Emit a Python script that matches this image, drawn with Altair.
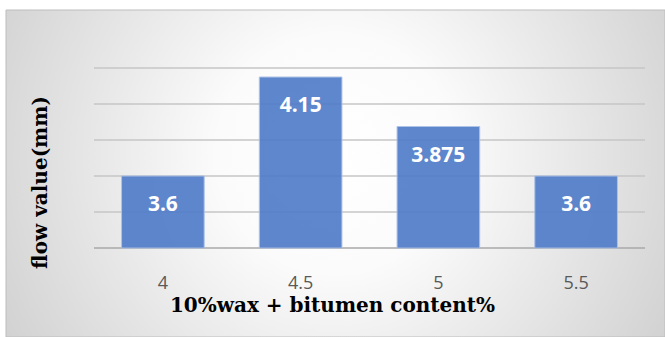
import altair as alt
import pandas as pd

# Flow value by bitumen content (10% wax modified binder)
contents = ["4", "4.5", "5", "5.5"]
flow_values = [3.6, 4.15, 3.875, 3.6]
grid_values = [3.2, 3.4, 3.6, 3.8, 4.0, 4.2]
base_value = 3.2

bars_df = pd.DataFrame({"content": contents, "flow": flow_values})
grid_df = pd.DataFrame({"flow": grid_values})

W, H = 551, 180
PAD_L, PAD_T, PAD_R, PAD_B = 94, 68, 20, 89

y_scale = alt.Scale(domain=[3.2, 4.2], nice=False, zero=False)
x_scale = alt.Scale(paddingInner=0.4, paddingOuter=0.2)

x_axis = alt.Axis(
    title="10%wax + bitumen content%",
    labelAngle=0,
    ticks=False,
    domain=False,
    grid=False,
    zindex=2,
    labelFont="Open Sans",
    labelFontSize=18,
    labelColor="#595959",
    labelPadding=26,
    titleFont="DejaVu Serif",
    titleFontWeight="bold",
    titleFontSize=20,
    titleColor="#000000",
    titleX=238,
    titleY=63,
    titleAlign="center",
    titleBaseline="alphabetic",
)

y_axis = alt.Axis(
    title="flow value(mm)",
    labels=False,
    ticks=False,
    domain=False,
    grid=False,
    zindex=2,
    titleFont="DejaVu Serif",
    titleFontWeight="bold",
    titleFontSize=20,
    titleColor="#000000",
    titleAngle=270,
    titleX=-54,
    titleY=114,
    titleAlign="center",
    titleBaseline="middle",
)

# Soft radial grey panel behind the whole chart
panel = alt.Chart(alt.Data(values=[{}])).mark_rect(
    fill=alt.Gradient(
        gradient="radial",
        stops=[
            alt.GradientStop(offset=0, color="#ffffff"),
            alt.GradientStop(offset=0.25, color="#fbfbfb"),
            alt.GradientStop(offset=1, color="#c2c2c2"),
        ],
        x1=0.5, y1=0.47, r1=0,
        x2=0.5, y2=0.47, r2=0.72,
    ),
    stroke="#bdbdbd",
    strokeWidth=1,
).encode(
    x=alt.value(6 - PAD_L),
    x2=alt.value(665 - PAD_L),
    y=alt.value(10 - PAD_T),
    y2=alt.value(337 - PAD_T),
)

grid = alt.Chart(grid_df).mark_rule(strokeWidth=1.6).encode(
    y=alt.Y("flow:Q", scale=y_scale, axis=y_axis),
    color=alt.condition(alt.datum.flow <= base_value, alt.value("#a9a9a9"), alt.value("#c6c6c6")),
)

bars = alt.Chart(bars_df).mark_bar(
    color="#517dc9", opacity=0.92, stroke="#a8bfe6", strokeWidth=1
).encode(
    x=alt.X("content:N", sort=None, scale=x_scale, axis=x_axis),
    y=alt.Y("flow:Q", scale=y_scale, axis=y_axis),
    y2=alt.datum(base_value),
)

labels = alt.Chart(bars_df).mark_text(
    color="#ffffff",
    font="Open Sans",
    fontWeight="bold",
    fontSize=21,
    baseline="alphabetic",
    dy=35,
).encode(
    x=alt.X("content:N", sort=None, scale=x_scale, axis=x_axis),
    y=alt.Y("flow:Q", scale=y_scale, axis=y_axis),
    text=alt.Text("flow:Q", format=".4~g"),
)

chart = alt.layer(panel, grid, bars, labels).properties(
    width=W,
    height=H,
    background="#ffffff",
    padding={"left": PAD_L, "top": PAD_T, "right": PAD_R, "bottom": PAD_B},
    autosize=alt.AutoSizeParams(type="none"),
).configure_view(stroke=None)

chart.save("out.html", embed_options={"renderer": "svg", "actions": False})
